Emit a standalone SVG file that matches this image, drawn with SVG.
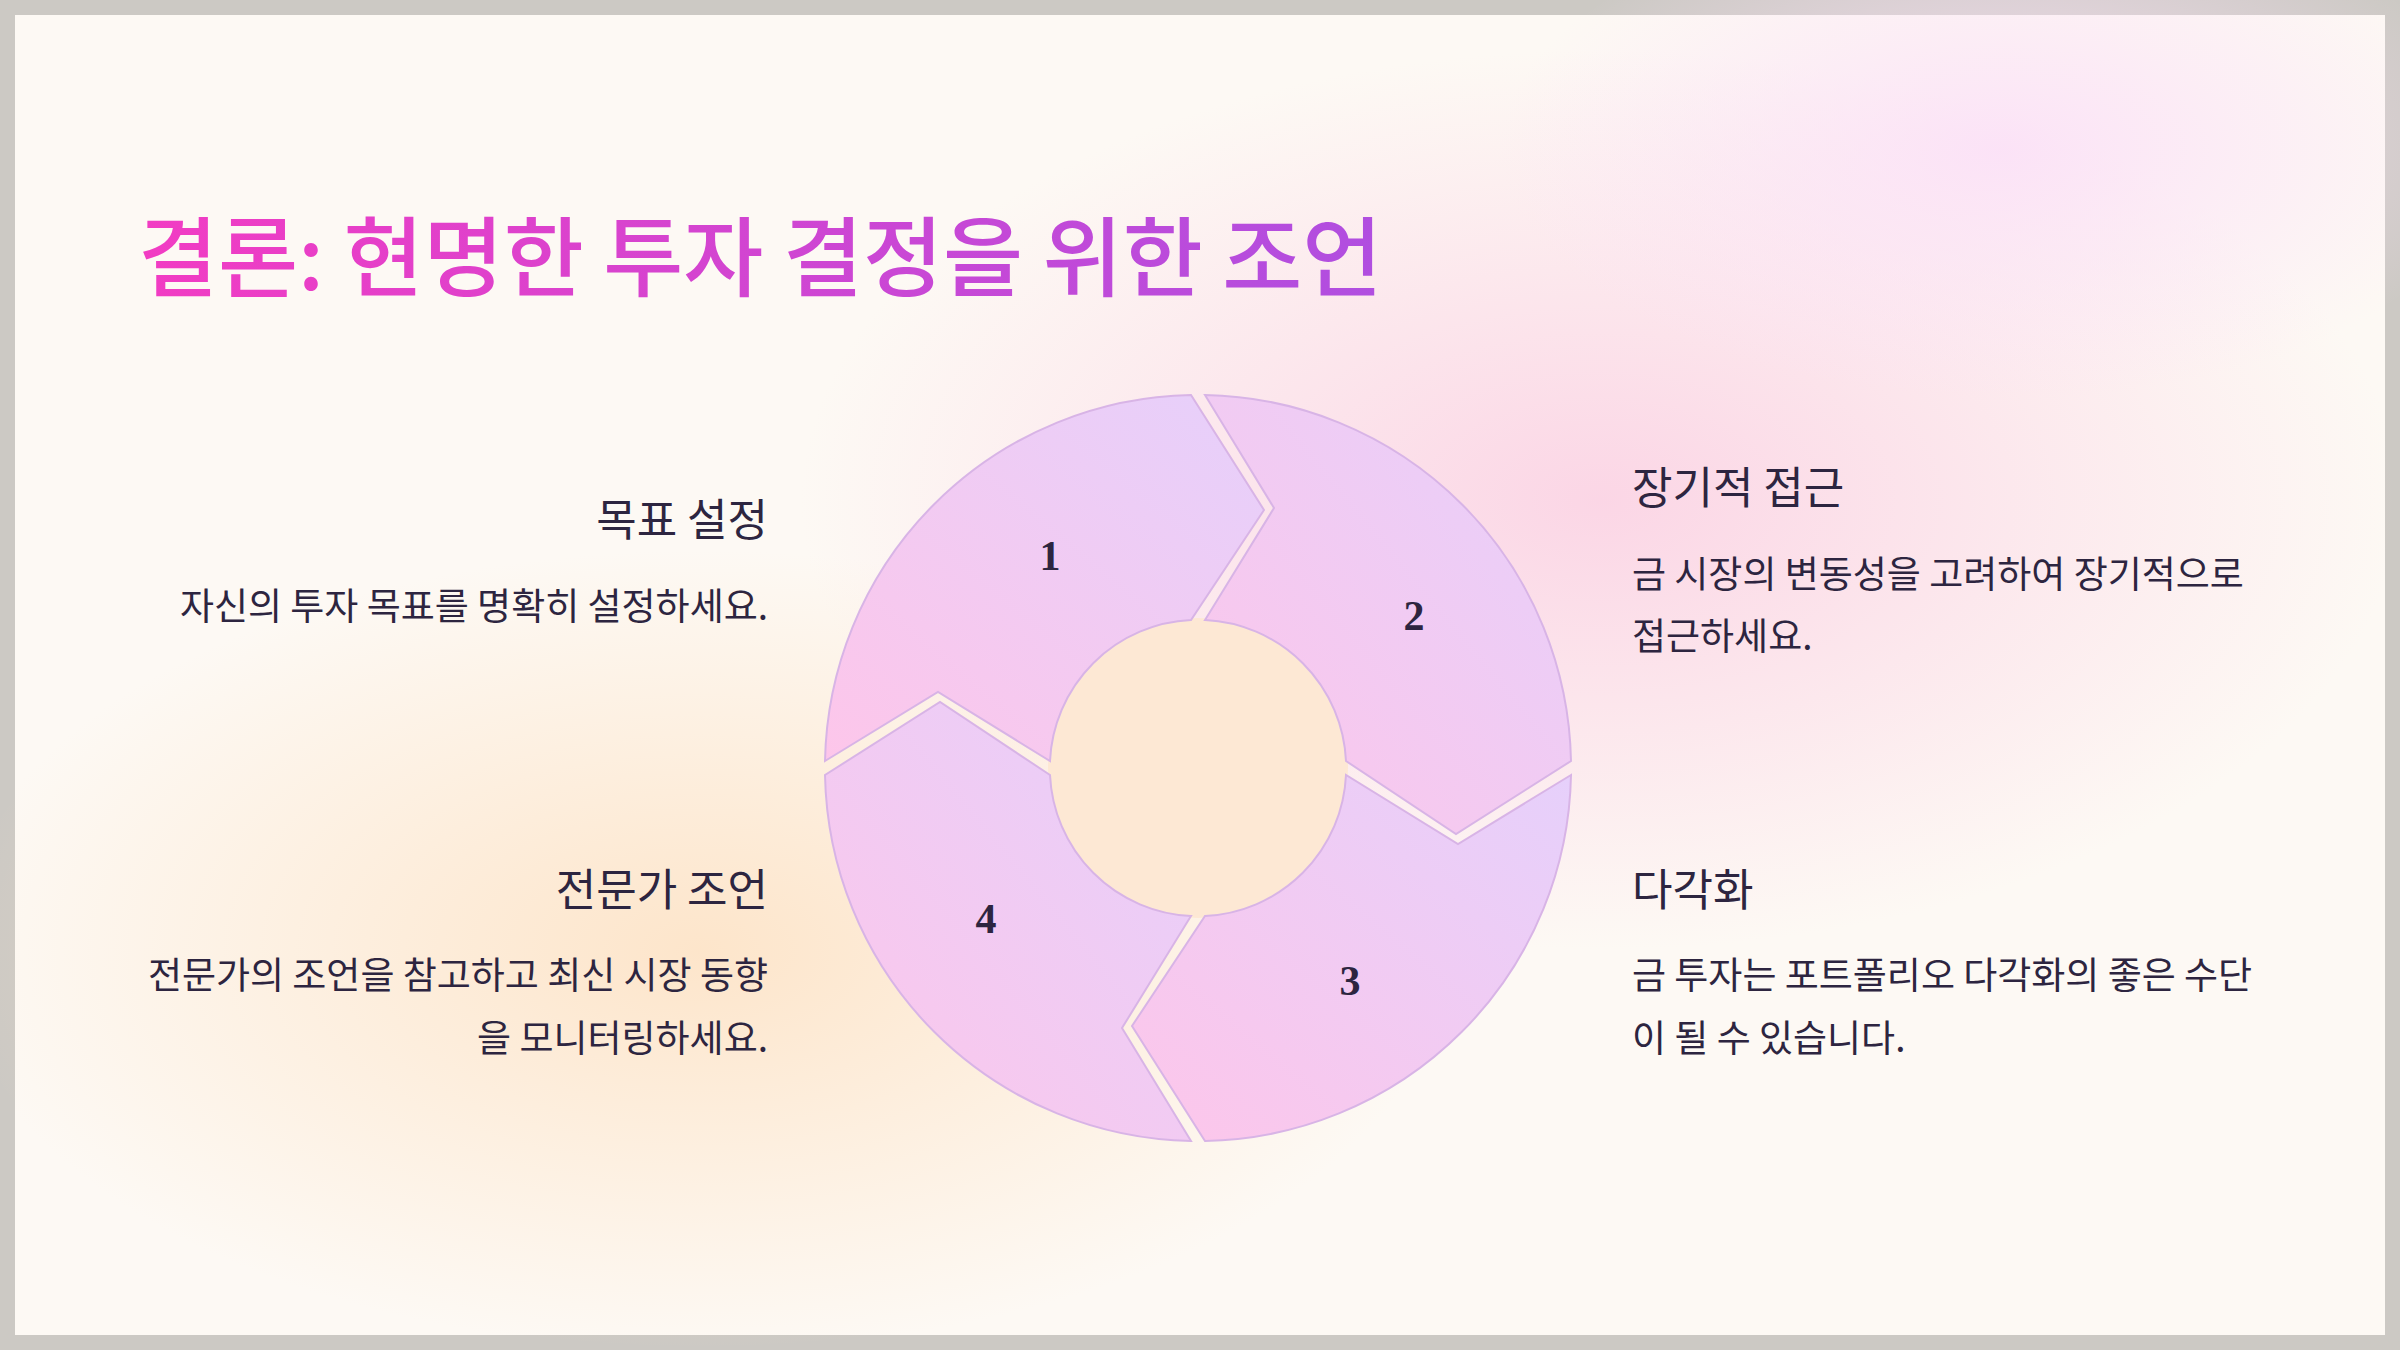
<svg xmlns="http://www.w3.org/2000/svg" width="2400" height="1350" viewBox="0 0 2400 1350">
<defs>
<linearGradient id="tg" x1="0" y1="0" x2="1" y2="0"><stop offset="0" stop-color="#f23cc3"/><stop offset="1" stop-color="#b04ee0"/></linearGradient>
<linearGradient id="sg" x1="0" y1="1" x2="1" y2="0"><stop offset="0" stop-color="#fdc6ea"/><stop offset="1" stop-color="#e6d0fb"/></linearGradient>
<radialGradient id="pink" cx="0.5" cy="0.5" r="0.5"><stop offset="0" stop-color="#fbd2e4" stop-opacity="0.9"/><stop offset="1" stop-color="#fbd2e4" stop-opacity="0"/></radialGradient>
<radialGradient id="peach" cx="0.5" cy="0.5" r="0.5"><stop offset="0" stop-color="#fde3c6" stop-opacity="0.9"/><stop offset="1" stop-color="#fde3c6" stop-opacity="0"/></radialGradient>
<radialGradient id="lav" cx="0.5" cy="0.5" r="0.5"><stop offset="0" stop-color="#fbe0f7" stop-opacity="0.9"/><stop offset="1" stop-color="#fbe0f7" stop-opacity="0"/></radialGradient>
<style>
.seg{fill:url(#sg);stroke:#d8b4e6;stroke-width:2}
.num{font-family:"Liberation Serif",serif;font-size:42px;font-weight:bold;fill:#2d2540;text-anchor:middle}
.h{font-family:"Noto Sans CJK KR",sans-serif;font-size:44px;fill:#2d2540}
.d{font-family:"Noto Sans CJK KR",sans-serif;font-size:37px;fill:#2d2540}
.l{text-anchor:end}
</style>
</defs>
<rect width="2400" height="1350" fill="#ccc9c4"/>
<rect x="15" y="15" width="2370" height="1320" fill="#fdf9f4"/>
<g>
<ellipse cx="1600" cy="500" rx="800" ry="450" fill="url(#pink)"/>
<ellipse cx="2000" cy="150" rx="500" ry="250" fill="url(#lav)"/>
<ellipse cx="700" cy="950" rx="750" ry="400" fill="url(#peach)"/>
<circle cx="1198" cy="768" r="150" fill="#fde8d4"/>
</g>
<text x="138" y="290" font-family="Noto Sans CJK KR, sans-serif" font-size="87" font-weight="500" fill="url(#tg)">결론: 현명한 투자 결정을 위한 조언</text>
<g id="seg1"><path class="seg" d="M825,761 L938,692 L1050,761 A148,148 0 0 1 1191,620 L1264,510 L1191,395 A373,373 0 0 0 825,761 Z"/><text class="num" x="1050" y="570">1</text></g>
<g id="seg2"><path class="seg" d="M1205,395 L1274,508 L1205,620 A148,148 0 0 1 1346,761 L1456,834 L1571,761 A373,373 0 0 0 1205,395 Z"/><text class="num" x="1414" y="630">2</text></g>
<g id="seg3"><path class="seg" d="M1571,775 L1458,844 L1346,775 A148,148 0 0 1 1205,916 L1132,1026 L1205,1141 A373,373 0 0 0 1571,775 Z"/><text class="num" x="1350" y="995">3</text></g>
<g id="seg4"><path class="seg" d="M1191,1141 L1122,1028 L1191,916 A148,148 0 0 1 1050,775 L940,702 L825,775 A373,373 0 0 0 1191,1141 Z"/><text class="num" x="986" y="933">4</text></g>
<g id="t1"><text class="h l" x="768" y="536">목표 설정</text><text class="d l" x="768" y="620">자신의 투자 목표를 명확히 설정하세요.</text></g>
<g id="t4"><text class="h l" x="768" y="906">전문가 조언</text><text class="d l" x="768" y="989">전문가의 조언을 참고하고 최신 시장 동향</text><text class="d l" x="768" y="1052">을 모니터링하세요.</text></g>
<g id="t2"><text class="h" x="1632" y="504">장기적 접근</text><text class="d" x="1632" y="588">금 시장의 변동성을 고려하여 장기적으로</text><text class="d" x="1632" y="650">접근하세요.</text></g>
<g id="t3"><text class="h" x="1632" y="906">다각화</text><text class="d" x="1632" y="989">금 투자는 포트폴리오 다각화의 좋은 수단</text><text class="d" x="1632" y="1052">이 될 수 있습니다.</text></g>
</svg>
